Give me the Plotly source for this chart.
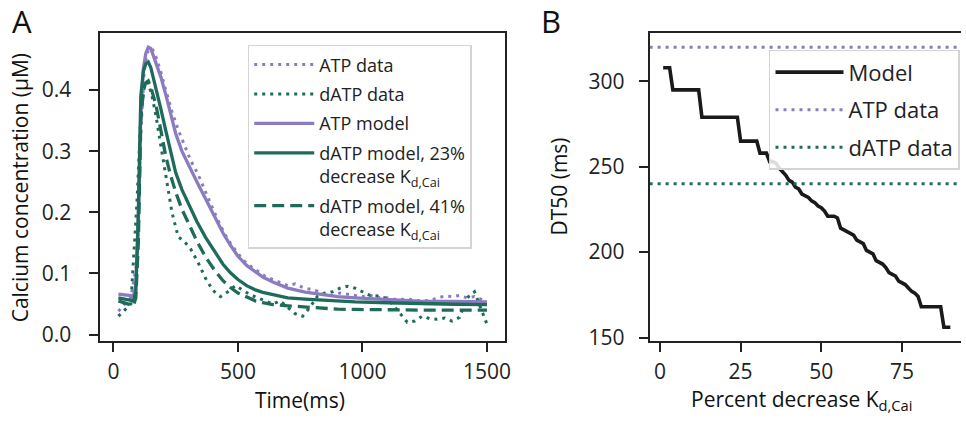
import plotly.graph_objects as go

W, H = 966, 423

# ---------------- Panel A data ----------------
T_MODEL = [20, 80, 90, 100, 110, 120, 130, 140, 150, 170, 190, 210, 230, 250, 275, 300,
           335, 370, 405, 440, 470, 500, 535, 570, 600, 640, 700, 770, 840, 900, 970,
           1100, 1230, 1370, 1500]
ATP_MODEL = [0.066, 0.063, 0.080, 0.180, 0.360, 0.435, 0.460, 0.470, 0.468, 0.446, 0.422,
             0.393, 0.360, 0.329, 0.300, 0.278, 0.250, 0.222, 0.194, 0.166, 0.146, 0.128,
             0.113, 0.102, 0.094, 0.086, 0.076, 0.0695, 0.065, 0.062, 0.060, 0.0575,
             0.0548, 0.054, 0.0532]
DATP_MODEL_23 = [0.060, 0.055, 0.070, 0.200, 0.390, 0.430, 0.443, 0.446, 0.437, 0.406, 0.370,
                 0.334, 0.298, 0.265, 0.237, 0.214, 0.185, 0.159, 0.136, 0.115, 0.101, 0.090,
                 0.080, 0.073, 0.069, 0.065, 0.060, 0.058, 0.056, 0.0548, 0.0535, 0.052,
                 0.0505, 0.0495, 0.049]
DATP_MODEL_41 = [0.055, 0.047, 0.060, 0.150, 0.350, 0.400, 0.412, 0.415, 0.405, 0.377, 0.335,
                 0.292, 0.260, 0.233, 0.205, 0.182, 0.153, 0.127, 0.106, 0.088, 0.077, 0.068,
                 0.061, 0.055, 0.052, 0.049, 0.047, 0.045, 0.0425, 0.0415, 0.041, 0.040,
                 0.040, 0.040, 0.040]

T_DATA = [20, 45, 70, 95, 110, 125, 140, 155, 170, 190, 210, 235, 260, 285, 310, 340, 370,
          400, 430, 460, 490, 520, 550, 580, 610, 640, 670, 700, 730, 760, 790, 820, 850,
          880, 910, 940, 970, 1000, 1030, 1060, 1090, 1120, 1150, 1180, 1210, 1240, 1270,
          1300, 1330, 1360, 1390, 1420, 1450, 1475, 1500]
ATP_DATA = [0.038, 0.050, 0.060, 0.120, 0.330, 0.440, 0.466, 0.468, 0.455, 0.430, 0.400,
            0.365, 0.335, 0.310, 0.285, 0.262, 0.232, 0.205, 0.178, 0.155, 0.138, 0.122,
            0.112, 0.103, 0.095, 0.090, 0.085, 0.080, 0.083, 0.077, 0.074, 0.071, 0.066,
            0.064, 0.068, 0.066, 0.063, 0.062, 0.064, 0.060, 0.061, 0.058, 0.057, 0.058,
            0.056, 0.055, 0.056, 0.060, 0.063, 0.062, 0.064, 0.060, 0.062, 0.058, 0.055]
DATP_DATA = [0.030, 0.040, 0.050, 0.220, 0.360, 0.410, 0.412, 0.390, 0.360, 0.310, 0.260,
             0.200, 0.160, 0.152, 0.140, 0.118, 0.092, 0.072, 0.062, 0.070, 0.080, 0.073,
             0.065, 0.060, 0.055, 0.050, 0.055, 0.045, 0.034, 0.030, 0.045, 0.063, 0.068,
             0.070, 0.076, 0.079, 0.076, 0.070, 0.064, 0.063, 0.060, 0.050, 0.035, 0.020,
             0.022, 0.030, 0.026, 0.025, 0.027, 0.022, 0.028, 0.060, 0.070, 0.045, 0.017]

# ---------------- Panel B data ----------------
PCT_DECREASE = list(range(1, 91))
DT50_MODEL = [308, 308, 308,
              295, 295, 295, 295, 295, 295, 295, 295, 295,
              279, 279, 279, 279, 279, 279, 279, 279, 279, 279, 279, 279,
              265, 265, 265, 265, 265, 265,
              258, 258, 258, 253, 253, 252,
              249, 247, 245, 242, 241, 238, 237, 234, 233, 232, 230, 229, 227, 226,
              224, 221, 221, 221, 220, 214, 213, 212, 211, 210, 207, 206, 205, 201,
              200, 199, 195, 194, 193, 191, 188, 187, 186, 183, 182, 181, 179, 177,
              176, 174,
              168, 168, 168, 168, 168, 168, 168,
              156, 156, 156]
DT50_ATP_DATA = 320
DT50_DATP_DATA = 240

# axis settings
A_XRANGE = [-52, 1574]
A_YRANGE = [-0.0102, 0.493]
B_XRANGE = [-3.2, 93.3]
B_YRANGE = [148.1, 328.2]

PURPLE = "#8b7cc1"
GREEN = "#1f6b5b"
INK = "#222222"
FONT = "Open Sans"

fig = go.Figure()

# Panel A traces
fig.add_trace(go.Scatter(x=T_DATA, y=ATP_DATA, mode="lines", name="ATP data",
                         line=dict(color=PURPLE, width=3, dash="3px,5px"),
                         xaxis="x", yaxis="y", legend="legend", legendgroup="a1"))
fig.add_trace(go.Scatter(x=T_DATA, y=DATP_DATA, mode="lines", name="dATP data",
                         line=dict(color=GREEN, width=3, dash="3px,5px"),
                         xaxis="x", yaxis="y", legend="legend", legendgroup="a2"))
fig.add_trace(go.Scatter(x=T_MODEL, y=ATP_MODEL, mode="lines", name="ATP model",
                         line=dict(color=PURPLE, width=3.3),
                         xaxis="x", yaxis="y", legend="legend", legendgroup="a3"))
fig.add_trace(go.Scatter(x=T_MODEL, y=DATP_MODEL_23, mode="lines",
                         name="dATP model, 23%<br>decrease K<sub>d,Cai</sub>",
                         line=dict(color=GREEN, width=3.3),
                         xaxis="x", yaxis="y", legend="legend", legendgroup="a4"))
fig.add_trace(go.Scatter(x=T_MODEL, y=DATP_MODEL_41, mode="lines",
                         name="dATP model, 41%<br>decrease K<sub>d,Cai</sub>",
                         line=dict(color=GREEN, width=3.3, dash="12px,6px"),
                         xaxis="x", yaxis="y", legend="legend", legendgroup="a5"))

# Panel B traces
fig.add_trace(go.Scatter(x=PCT_DECREASE, y=DT50_MODEL, mode="lines", name="Model",
                         line=dict(color="#1a1a1a", width=3.6),
                         xaxis="x2", yaxis="y2", legend="legend2", legendgroup="b1"))
fig.add_trace(go.Scatter(x=B_XRANGE, y=[DT50_ATP_DATA, DT50_ATP_DATA], mode="lines",
                         name="ATP data",
                         line=dict(color=PURPLE, width=3, dash="3px,5px"),
                         xaxis="x2", yaxis="y2", legend="legend2", legendgroup="b2"))
fig.add_trace(go.Scatter(x=B_XRANGE, y=[DT50_DATP_DATA, DT50_DATP_DATA], mode="lines",
                         name="dATP data",
                         line=dict(color=GREEN, width=3, dash="3px,5px"),
                         xaxis="x2", yaxis="y2", legend="legend2", legendgroup="b3"))

ydom = [(H - 349) / H, (H - 34) / H]
tickfont = dict(family=FONT, size=21, color=INK)
common = dict(showgrid=False, zeroline=False, showline=True, linecolor=INK, linewidth=2,
              ticks="outside", ticklen=9, tickwidth=2, tickcolor=INK, tickfont=tickfont)

fig.update_layout(
    width=W, height=H,
    margin=dict(l=0, r=0, t=0, b=0),
    paper_bgcolor="white", plot_bgcolor="white",
    font=dict(family=FONT, color=INK),
    xaxis=dict(domain=[101 / W, 508 / W], range=A_XRANGE, tickvals=[0, 500, 1000, 1500],
               mirror=True, anchor="y", ticklabelstandoff=2, **common),
    yaxis=dict(domain=ydom, range=A_YRANGE, tickvals=[0, 0.1, 0.2, 0.3, 0.4],
               tickformat=".1f", mirror=True, anchor="x", ticklabelstandoff=14, **common),
    xaxis2=dict(domain=[653 / W, 1.0], range=B_XRANGE, tickvals=[0, 25, 50, 75],
                mirror=True, anchor="y2", ticklabelstandoff=2, **common),
    yaxis2=dict(domain=ydom, range=B_YRANGE, tickvals=[150, 200, 250, 300],
                mirror=False, anchor="x2", ticklabelstandoff=10, **common),
    legend=dict(x=249 / W, y=1 - 46 / H, xanchor="left", yanchor="top",
                bgcolor="rgba(255,255,255,0.85)", bordercolor="#d4d4d4", borderwidth=1.5,
                font=dict(family=FONT, size=18, color=INK), valign="top",
                tracegroupgap=3, itemwidth=60),
    legend2=dict(x=773 / W, y=1 - 51 / H, xanchor="left", yanchor="top",
                 bgcolor="rgba(255,255,255,0.85)", bordercolor="#d4d4d4", borderwidth=1.5,
                 font=dict(family=FONT, size=22, color=INK),
                 tracegroupgap=6, itemwidth=68),
    showlegend=True,
)

annos = [
    dict(text="A", x=22 / W, y=1 - 22 / H, size=31),
    dict(text="B", x=554 / W, y=1 - 22 / H, size=31),
    dict(text="Time(ms)", x=302 / W, y=1 - 410 / H, size=21),
    dict(text="Calcium concentration (μM)", x=21 / W, y=1 - 192 / H, size=21, angle=-90),
    dict(text="Percent decrease K<sub>d,Cai</sub>", x=806 / W, y=1 - 410 / H, size=21),
    dict(text="DT50 (ms)", x=562 / W, y=1 - 191 / H, size=21, angle=-90),
]
for a in annos:
    fig.add_annotation(text=a["text"], x=a["x"], y=a["y"], xref="paper", yref="paper",
                       xanchor="center", yanchor="middle", showarrow=False,
                       textangle=a.get("angle", 0),
                       font=dict(family=FONT, size=a["size"], color="#111111"))

fig.write_html("out.html", config={"displayModeBar": False},
               post_script="document.body.style.margin='0';document.body.style.overflow='hidden';")
